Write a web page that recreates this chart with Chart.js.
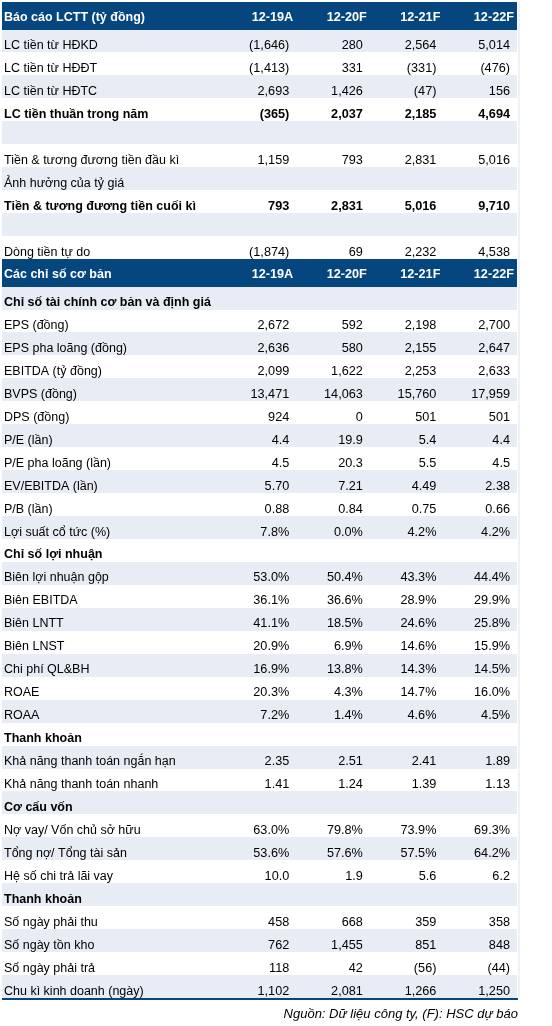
<!DOCTYPE html>
<html>
<head>
<meta charset="utf-8">
<script src="https://cdn.jsdelivr.net/npm/chart.js@4.4.1/dist/chart.umd.min.js"></script>
<style>
html,body{margin:0;padding:0;background:#fff;}
canvas{display:block;}
</style>
</head>
<body>
<canvas id="c" width="552" height="1026"></canvas>
<script>
// ---------- DATA ----------
const columns = ['12-19A', '12-20F', '12-21F', '12-22F'];

const rowLabels = [
  'Báo cáo LCTT (tỷ đồng)',
  'LC tiền từ HĐKD', 'LC tiền từ HĐĐT', 'LC tiền từ HĐTC', 'LC tiền thuần trong năm', '',
  'Tiền & tương đương tiền đầu kì', 'Ảnh hưởng của tỷ giá', 'Tiền & tương đương tiền cuối kì', '',
  'Dòng tiền tự do',
  'Các chỉ số cơ bản',
  'Chỉ số tài chính cơ bản và định giá',
  'EPS (đồng)', 'EPS pha loãng (đồng)', 'EBITDA (tỷ đồng)', 'BVPS (đồng)', 'DPS (đồng)',
  'P/E (lần)', 'P/E pha loãng (lần)', 'EV/EBITDA (lần)', 'P/B (lần)', 'Lợi suất cổ tức (%)',
  'Chỉ số lợi nhuận',
  'Biên lợi nhuận gộp', 'Biên EBITDA', 'Biên LNTT', 'Biên LNST', 'Chi phí QL&BH', 'ROAE', 'ROAA',
  'Thanh khoản',
  'Khả năng thanh toán ngắn hạn', 'Khả năng thanh toán nhanh',
  'Cơ cấu vốn',
  'Nợ vay/ Vốn chủ sở hữu', 'Tổng nợ/ Tổng tài sản', 'Hệ số chi trả lãi vay',
  'Thanh khoản',
  'Số ngày phải thu', 'Số ngày tồn kho', 'Số ngày phải trả', 'Chu kì kinh doanh (ngày)'
];

const headerRows = [0, 11];
const sectionRows = [12, 23, 31, 34, 38];
const totalRows = [4, 8];

const v1219A = [null,
  '(1,646)', '(1,413)', '2,693', '(365)', null, '1,159', null, '793', null, '(1,874)',
  null, null,
  '2,672', '2,636', '2,099', '13,471', '924', '4.4', '4.5', '5.70', '0.88', '7.8%',
  null, '53.0%', '36.1%', '41.1%', '20.9%', '16.9%', '20.3%', '7.2%',
  null, '2.35', '1.41',
  null, '63.0%', '53.6%', '10.0',
  null, '458', '762', '118', '1,102'];
const v1220F = [null,
  '280', '331', '1,426', '2,037', null, '793', null, '2,831', null, '69',
  null, null,
  '592', '580', '1,622', '14,063', '0', '19.9', '20.3', '7.21', '0.84', '0.0%',
  null, '50.4%', '36.6%', '18.5%', '6.9%', '13.8%', '4.3%', '1.4%',
  null, '2.51', '1.24',
  null, '79.8%', '57.6%', '1.9',
  null, '668', '1,455', '42', '2,081'];
const v1221F = [null,
  '2,564', '(331)', '(47)', '2,185', null, '2,831', null, '5,016', null, '2,232',
  null, null,
  '2,198', '2,155', '2,253', '15,760', '501', '5.4', '5.5', '4.49', '0.75', '4.2%',
  null, '43.3%', '28.9%', '24.6%', '14.6%', '14.3%', '14.7%', '4.6%',
  null, '2.41', '1.39',
  null, '73.9%', '57.5%', '5.6',
  null, '359', '851', '(56)', '1,266'];
const v1222F = [null,
  '5,014', '(476)', '156', '4,694', null, '5,016', null, '9,710', null, '4,538',
  null, null,
  '2,700', '2,647', '2,633', '17,959', '501', '4.4', '4.5', '2.38', '0.66', '4.2%',
  null, '44.4%', '29.9%', '25.8%', '15.9%', '14.5%', '16.0%', '4.5%',
  null, '1.89', '1.13',
  null, '69.3%', '64.2%', '6.2',
  null, '358', '848', '(44)', '1,250'];

const sourceNote = 'Nguồn: Dữ liệu công ty, (F): HSC dự báo';

// ---------- LAYOUT (rendering only) ----------
const columnValues = [v1219A, v1220F, v1221F, v1222F];
const BLUE = '#05467F';
const GRAY = '#E8ECF4';
const FONT = '"Liberation Sans", Arial, sans-serif';
const LABEL_SIZE = 12.5;
const VALUE_SIZE = 12.7;

const rowWeight = rowLabels.map((_, i) => headerRows.includes(i) ? 1.2 : 1);
const rowTop = [];
let acc = 0;
rowWeight.forEach(w => { rowTop.push(acc); acc += w; });
const totalUnits = acc;
const rowCenter = rowTop.map((t, i) => t + rowWeight[i] / 2);

// one scatter dataset per column; each point = one cell (x = column end, y = row centre)
const datasets = columns.map((col, j) => ({
  label: col,
  data: rowLabels.map((_, i) => {
    const txt = headerRows.includes(i) ? col : columnValues[j][i];
    return txt == null ? null : { x: 4 + j, y: rowCenter[i], txt: txt, row: i };
  }).filter(p => p),
  pointRadius: 0,
  pointHoverRadius: 0,
  showLine: false
}));

const tablePlugin = {
  id: 'tablePlugin',
  beforeDatasetsDraw(chart) {
    const ctx = chart.ctx;
    const xs = chart.scales.x, ys = chart.scales.y;
    const left = Math.round(xs.getPixelForValue(0));
    const right = Math.round(xs.getPixelForValue(7));
    ctx.save();
    let parity = 0;
    rowLabels.forEach((_, i) => {
      const t = Math.round(ys.getPixelForValue(rowTop[i]));
      const b = Math.round(ys.getPixelForValue(rowTop[i] + rowWeight[i]));
      if (headerRows.includes(i)) {
        ctx.fillStyle = BLUE;
        ctx.fillRect(left, t, right - left, b - t);
        parity = 0;
      } else {
        if (parity % 2 === 0) {
          ctx.fillStyle = GRAY;
          ctx.fillRect(left, t, right - left, b - t);
        }
        parity++;
      }
    });
    const top = Math.round(ys.getPixelForValue(0));
    const bottom = Math.round(ys.getPixelForValue(totalUnits));
    ctx.fillStyle = '#EEF1F7';
    ctx.fillRect(right + 1, top, 2, bottom - top);
    ctx.fillStyle = BLUE;
    ctx.fillRect(left, bottom, right - left + 1, 2);
    ctx.restore();
  },
  afterDatasetsDraw(chart) {
    const ctx = chart.ctx;
    const xs = chart.scales.x, ys = chart.scales.y;
    const left = xs.getPixelForValue(0);
    ctx.save();
    ctx.textBaseline = 'alphabetic';
    rowLabels.forEach((lab, i) => {
      if (!lab) return;
      const isHead = headerRows.includes(i);
      const bold = isHead || sectionRows.includes(i) || totalRows.includes(i);
      ctx.font = (bold ? 'bold ' : '') + LABEL_SIZE + 'px ' + FONT;
      ctx.fillStyle = isHead ? '#FFFFFF' : '#000000';
      ctx.textAlign = 'left';
      const b = ys.getPixelForValue(rowTop[i] + rowWeight[i]);
      const y = isHead ? ys.getPixelForValue(rowCenter[i]) + 5 : b - 3.5;
      ctx.fillText(lab, left + 2, y);
    });
    chart.data.datasets.forEach((ds, j) => {
      const meta = chart.getDatasetMeta(j);
      meta.data.forEach((el, k) => {
        const p = ds.data[k];
        const i = p.row;
        const isHead = headerRows.includes(i);
        const bold = isHead || totalRows.includes(i);
        ctx.font = (bold ? 'bold ' : '') + VALUE_SIZE + 'px ' + FONT;
        ctx.fillStyle = isHead ? '#FFFFFF' : '#000000';
        ctx.textAlign = 'right';
        const b = ys.getPixelForValue(rowTop[i] + rowWeight[i]);
        const y = isHead ? el.y + 5 : b - 3.5;
        ctx.fillText(p.txt, el.x - (isHead ? 3 : 7), y);
      });
    });
    ctx.font = 'italic 13px ' + FONT;
    ctx.fillStyle = '#000000';
    ctx.textAlign = 'right';
    ctx.fillText(sourceNote, xs.getPixelForValue(7) + 1, ys.getPixelForValue(totalUnits) + 20);
    ctx.restore();
  }
};

new Chart(document.getElementById('c'), {
  type: 'scatter',
  data: { datasets: datasets },
  options: {
    responsive: false,
    devicePixelRatio: 1,
    animation: false,
    events: [],
    layout: { padding: { left: 2, right: 35, top: 2, bottom: 28 } },
    plugins: { legend: { display: false }, tooltip: { enabled: false }, title: { display: false } },
    scales: {
      x: { type: 'linear', min: 0, max: 7, display: false },
      y: { type: 'linear', min: 0, max: totalUnits, reverse: true, display: false }
    }
  },
  plugins: [tablePlugin]
});
</script>
</body>
</html>
